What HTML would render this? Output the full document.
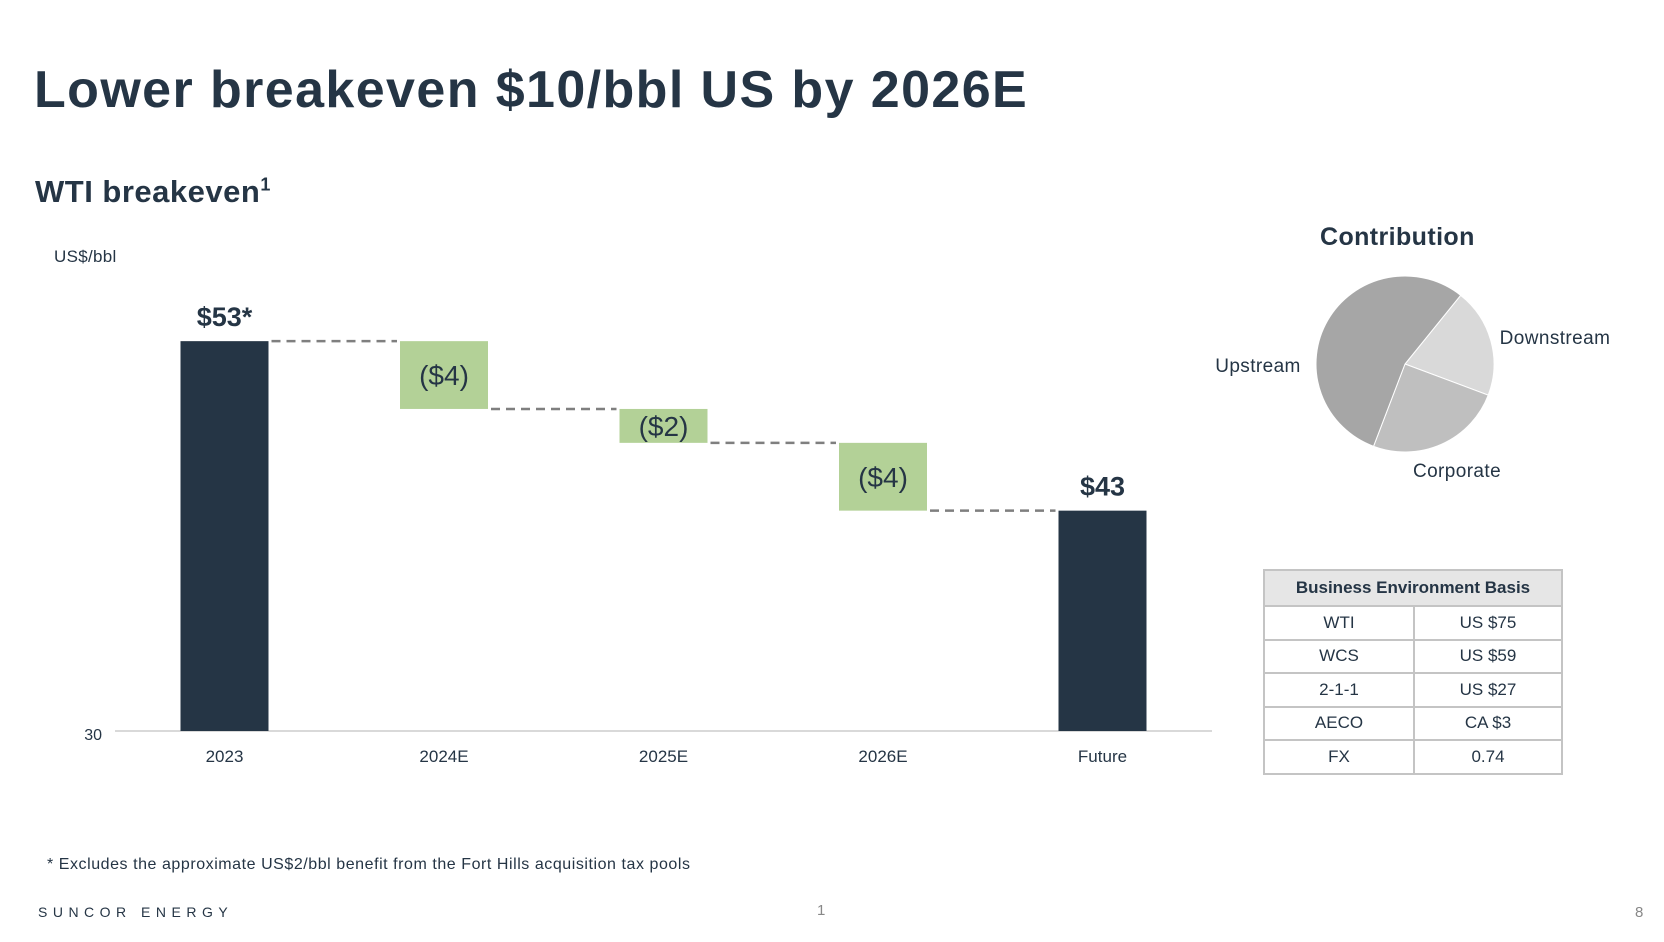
<!DOCTYPE html>
<html><head><meta charset="utf-8"><style>
body{margin:0;width:1664px;height:942px;background:#fff;position:relative;overflow:hidden;font-family:"Liberation Sans",sans-serif;color:#253545}
.a{position:absolute;white-space:nowrap}
table{border-collapse:collapse;position:absolute;left:1263px;top:569px;width:300px;font-size:17px;table-layout:fixed}
td{border:2px solid #c4c4c4;text-align:center;height:31.5px;padding:0;color:#253545}
th{border:2px solid #c4c4c4;background:#e6e6e6;height:32px;font-size:17px;color:#253545}
</style></head><body>
<div class="a" style="left:34px;top:60px;font-size:52px;font-weight:bold;letter-spacing:1.4px">Lower breakeven $10/bbl US by 2026E</div>
<div class="a" style="left:35px;top:174px;font-size:31px;font-weight:bold;letter-spacing:0.5px">WTI breakeven<sup style="font-size:18px">1</sup></div>
<div class="a" style="left:54px;top:247px;font-size:17px;letter-spacing:0.3px">US$/bbl</div>
<svg id="wf" class="a" style="left:0;top:0" width="1664" height="942"></svg>
<div class="a" style="left:1320px;top:223px;font-size:25px;font-weight:bold;letter-spacing:0.4px">Contribution</div>
<svg id="pie" class="a" style="left:0;top:0" width="1664" height="942"></svg>
<table>
<colgroup><col style="width:150px"><col></colgroup>
<tr><th colspan="2">Business Environment Basis</th></tr>
<tr><td>WTI</td><td>US $75</td></tr>
<tr><td>WCS</td><td>US $59</td></tr>
<tr><td>2-1-1</td><td>US $27</td></tr>
<tr><td>AECO</td><td>CA $3</td></tr>
<tr><td>FX</td><td>0.74</td></tr>
</table>
<div class="a" style="left:47px;top:856px;font-size:16px;letter-spacing:0.55px">* Excludes the approximate US$2/bbl benefit from the Fort Hills acquisition tax pools</div>
<div class="a" style="left:38px;top:904px;font-size:14px;letter-spacing:5.5px">SUNCOR ENERGY</div>
<div class="a" style="left:817px;top:902px;font-size:15px;color:#888">1</div>
<div class="a" style="left:1635px;top:904px;font-size:15px;color:#888">8</div>
<script>
const categories=["2023","2024E","2025E","2026E","Future"];
const deltas=[53,-4,-2,-4,43];
const isTotal=[true,false,false,false,true];
const valueLabels=["$53*","($4)","($2)","($4)","$43"];
const yMin=30;
const pieLabels=["Downstream","Corporate","Upstream"];
const pieShares=[20,25,55];
const NS="http://www.w3.org/2000/svg";
function yS(v){return 731-(v-yMin)*16.95;}
function xS(i){return 224.5+i*219.5;}
const bw=88;
const svg=document.getElementById('wf');
function mk(t,at,p){const e=document.createElementNS(NS,t);for(const k in at)e.setAttribute(k,at[k]);(p||svg).appendChild(e);return e;}
const ax=mk('line',{x1:115,x2:1212,y1:731,y2:731,stroke:'#d9d9d9','stroke-width':2});


const t30=mk('text',{x:102,y:740,'text-anchor':'end','font-size':16,fill:'#253545'});t30.textContent=yMin;


let run=0;
categories.forEach((c,i)=>{
  let top,bot;
  if(isTotal[i]){run=deltas[i];top=yS(run);bot=yS(yMin);}
  else{const prev=run;run+=deltas[i];top=yS(prev);bot=yS(run);}
  const r=mk('rect',{x:xS(i)-bw/2,y:top,width:bw,height:bot-top,fill:isTotal[i]?'#253545':'#b3d197'});
  
  
  if(i<categories.length-1){
    const ly=yS(run);
    const dl=mk('line',{x1:xS(i)+bw/2+3,x2:xS(i+1)-bw/2-3,y1:ly,y2:ly,stroke:'#7f7f7f','stroke-width':2.5,'stroke-dasharray':'9,6'});
    
    
  }
  const lab=mk('text',{x:xS(i),'text-anchor':'middle',fill:'#253545'});
  if(isTotal[i]){lab.setAttribute('y',top-15);lab.setAttribute('font-size',27);lab.setAttribute('font-weight','bold');}
  else{lab.setAttribute('y',(top+bot)/2+10);lab.setAttribute('font-size',28);}
  lab.textContent=valueLabels[i];
  
  
  const cl=mk('text',{x:xS(i),y:762,'text-anchor':'middle','font-size':17,fill:'#253545'});cl.textContent=c;
  
  
});
const pie=document.getElementById('pie');
const cx=1405,cy=364,rx=89,ry=88;
const colors=["#d9d9d9","#bfbfbf","#a6a6a6"];
const labPos=[[1555,344],[1457,477],[1258,372]];
let ang=38.7*Math.PI/180;const tot=pieShares.reduce((a,b)=>a+b,0);
pieShares.forEach((s,i)=>{
  const a2=ang+s/tot*2*Math.PI;
  const p1=[cx+rx*Math.sin(ang),cy-ry*Math.cos(ang)],p2=[cx+rx*Math.sin(a2),cy-ry*Math.cos(a2)];
  const large=(a2-ang)>Math.PI?1:0;
  const p=mk('path',{d:`M${cx},${cy}L${p1[0]},${p1[1]}A${rx},${ry} 0 ${large} 1 ${p2[0]},${p2[1]}Z`,fill:colors[i],stroke:'#fff','stroke-width':1},pie);
  
  
  const t=mk('text',{x:labPos[i][0],y:labPos[i][1],'text-anchor':'middle','font-size':19,'letter-spacing':0.4,fill:'#253545'},pie);t.textContent=pieLabels[i];
  
  
  ang=a2;
});
</script>
</body></html>
